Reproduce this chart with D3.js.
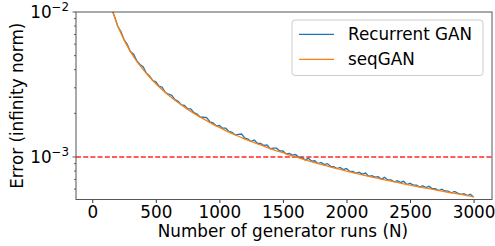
<html>
<head>
<script src="https://d3js.org/d3.v7.min.js"></script>
<style>
body { margin: 0; background: #fff; }
text { font-family: "DejaVu Sans", sans-serif; fill: #000; }
.axis path, .axis line { stroke: #333; }
</style>
</head>
<body>
<svg width="495" height="246"></svg>
<script>

// generator runs for each series
var nSeq = d3.range(100, 3001, 50);
var nRec = d3.range(150, 3001, 25);

// seqGAN error (smooth)
var seqGAN = [0.0160, 0.01067, 0.0080, 0.0064, 0.00533, 0.00457, 0.0040, 0.00356, 0.0032, 0.00291,
  0.00267, 0.00246, 0.00229, 0.00213, 0.0020, 0.00188, 0.00178, 0.00168, 0.0016, 0.00152,
  0.00145, 0.00139, 0.00133, 0.00128, 0.00123, 0.00119, 0.00114, 0.0011, 0.00107, 0.00103,
  0.001, 0.00097, 0.00094, 0.000914, 0.000889, 0.000865, 0.000842, 0.000821, 0.0008, 0.00078,
  0.000762, 0.000744, 0.000727, 0.000711, 0.000696, 0.000681, 0.000667, 0.000653, 0.00064, 0.000627,
  0.000615, 0.000604, 0.000593, 0.000582, 0.000571, 0.000561, 0.000552, 0.000542, 0.000533];

// Recurrent GAN error (noisy)
var recurrentGAN = [0.01067, 0.00933, 0.00800, 0.00732, 0.00646, 0.00599, 0.00533, 0.00512, 0.00462, 0.00435,
  0.00420, 0.00380, 0.00363, 0.00337, 0.00330, 0.00308, 0.00303, 0.00278, 0.00272, 0.00266,
  0.00249, 0.00242, 0.00229, 0.00227, 0.00215, 0.00215, 0.00202, 0.00198, 0.00188, 0.00188,
  0.00187, 0.00175, 0.00172, 0.00164, 0.00165, 0.00158, 0.00158, 0.00150, 0.00148, 0.00142,
  0.00143, 0.00144, 0.00135, 0.00133, 0.00128, 0.00131, 0.00124, 0.00124, 0.00120, 0.00121,
  0.00114, 0.00115, 0.00115, 0.00110, 0.00110, 0.00105, 0.00106, 0.00103, 0.00104, 0.000995,
  0.000989, 0.000955, 0.000979, 0.000937, 0.000942, 0.000901, 0.000916, 0.000886, 0.000900, 0.000862,
  0.000859, 0.000831, 0.000846, 0.000818, 0.000832, 0.000798, 0.000796, 0.000771, 0.000785, 0.000761,
  0.000774, 0.000736, 0.000742, 0.000726, 0.000732, 0.000703, 0.000724, 0.000695, 0.000695, 0.000674,
  0.000687, 0.000667, 0.000679, 0.000646, 0.000659, 0.000640, 0.000640, 0.000621, 0.000634, 0.000616,
  0.000628, 0.000604, 0.000605, 0.000587, 0.000599, 0.000583, 0.000582, 0.000566, 0.000578, 0.000563,
  0.000552, 0.000558, 0.000542, 0.000554, 0.000528];

var xTicks = [0, 500, 1000, 1500, 2000, 2500, 3000];
var threshold = 1e-3;

var svg = d3.select("svg"),
    margin = {top: 12, right: 3, bottom: 46.5, left: 76},
    width = +svg.attr("width") - margin.left - margin.right,
    height = +svg.attr("height") - margin.top - margin.bottom;

var fs = "16.8px";

var x = d3.scaleLinear().domain([-128, 3145]).range([0, width]);
var y = d3.scaleLog().domain([5.09e-4, 1e-2]).range([height, 0]);

svg.append("defs").append("clipPath")
    .attr("id", "clip")
  .append("rect")
    .attr("width", width)
    .attr("height", height);

var g = svg.append("g")
    .attr("transform", "translate(" + margin.left + "," + margin.top + ")");

var line = d3.line()
    .x(function(d) { return x(d[0]); })
    .y(function(d) { return y(d[1]); });

var plot = g.append("g").attr("clip-path", "url(#clip)");

plot.append("line")
    .attr("x1", 0).attr("x2", width)
    .attr("y1", y(threshold)).attr("y2", y(threshold))
    .attr("stroke", "#f00")
    .attr("stroke-opacity", 0.85)
    .attr("stroke-width", 1.5)
    .attr("stroke-dasharray", "5,2.2");

plot.append("path")
    .datum(d3.zip(nRec, recurrentGAN))
    .attr("fill", "none")
    .attr("stroke", "#1f77b4")
    .attr("stroke-width", 1.3)
    .attr("d", line);

plot.append("path")
    .datum(d3.zip(nSeq, seqGAN))
    .attr("fill", "none")
    .attr("stroke", "#ff7f0e")
    .attr("stroke-width", 1.3)
    .attr("d", line);

// x axis
var xAxis = g.append("g")
    .attr("class", "axis")
    .attr("transform", "translate(0," + height + ")")
    .call(d3.axisBottom(x).tickValues(xTicks).tickSize(3.5).tickPadding(3).tickFormat(d3.format("d")));
xAxis.select(".domain").remove();
xAxis.selectAll("text").style("font-size", fs);

// y axis, major and minor ticks
var minor = [6e-4, 7e-4, 8e-4, 9e-4, 2e-3, 3e-3, 4e-3, 5e-3, 6e-3, 7e-3, 8e-3, 9e-3];
var yAxis = g.append("g").attr("class", "axis");
yAxis.selectAll(".minor").data(minor).enter().append("line")
    .attr("x1", -2).attr("x2", 0)
    .attr("y1", function(d) { return y(d); })
    .attr("y2", function(d) { return y(d); })
    .attr("stroke-width", 0.8);
var major = [-3, -2];
yAxis.selectAll(".major").data(major).enter().append("line")
    .attr("x1", -3.5).attr("x2", 0)
    .attr("y1", function(d) { return y(Math.pow(10, d)); })
    .attr("y2", function(d) { return y(Math.pow(10, d)); })
    .attr("stroke-width", 0.8);
var lab = yAxis.selectAll(".lab").data(major).enter().append("text")
    .attr("x", -7)
    .attr("y", function(d) { return y(Math.pow(10, d)) + 6; })
    .attr("text-anchor", "end")
    .style("font-size", fs);
lab.append("tspan").text("10");
lab.append("tspan")
    .attr("dy", -7)
    .style("font-size", "11.8px")
    .text(function(d) { return "\u2212" + (-d); });

// frame
g.append("rect")
    .attr("width", width)
    .attr("height", height)
    .attr("fill", "none")
    .attr("stroke", "#555")
    .attr("stroke-width", 1);

// labels
svg.append("text")
    .attr("x", margin.left + x(1500))
    .attr("y", 236.5)
    .attr("text-anchor", "middle")
    .style("font-size", fs)
    .text("Number of generator runs (N)");

svg.append("text")
    .attr("transform", "translate(23," + (margin.top + height / 2) + ") rotate(-90)")
    .attr("text-anchor", "middle")
    .style("font-size", fs)
    .text("Error (infinity norm)");

// legend
var legend = svg.append("g").attr("transform", "translate(292,20)");
legend.append("rect")
    .attr("width", 191).attr("height", 55.5)
    .attr("rx", 3)
    .attr("fill", "#fff").attr("fill-opacity", 0.8)
    .attr("stroke", "#ccc").attr("stroke-width", 1);
var series = [["Recurrent GAN", "#1f77b4"], ["seqGAN", "#ff7f0e"]];
series.forEach(function(s, i) {
  var yy = 14.3 + i * 25;
  legend.append("line")
      .attr("x1", 7).attr("x2", 42)
      .attr("y1", yy).attr("y2", yy)
      .attr("stroke", s[1]).attr("stroke-width", 1.3);
  legend.append("text")
      .attr("x", 56).attr("y", yy + 6)
      .style("font-size", fs)
      .text(s[0]);
});

</script>
</body>
</html>
